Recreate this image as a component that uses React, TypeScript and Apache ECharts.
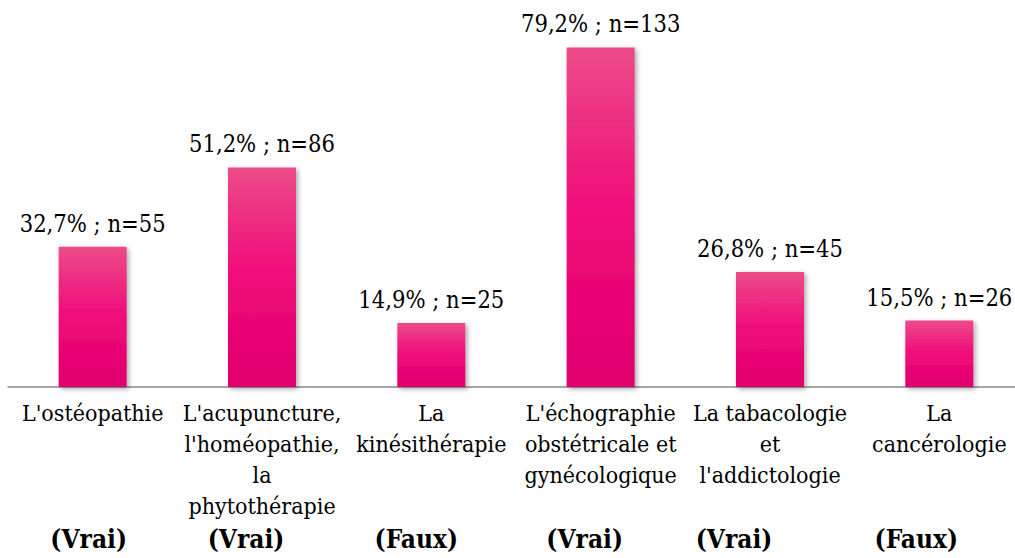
import React, { useEffect, useRef } from "react";
import * as echarts from "echarts";

const categories = [
  "L'ostéopathie",
  "L'acupuncture,\nl'homéopathie,\nla\nphytothérapie",
  "La\nkinésithérapie",
  "L'échographie\nobstétricale et\ngynécologique",
  "La tabacologie\net\nl'addictologie",
  "La\ncancérologie",
];
const percents = [32.7, 51.2, 14.9, 79.2, 26.8, 15.5];
const counts = [55, 86, 25, 133, 45, 26];
const verdicts = ["(Vrai)", "(Vrai)", "(Faux)", "(Vrai)", "(Vrai)", "(Faux)"];
const verdictShift = [4, 16, 15, 16, 36, 23];

export default function App() {
  const ref = useRef<HTMLDivElement>(null);
  useEffect(() => {
    if (!ref.current) return;
    const chart = echarts.init(ref.current, undefined, { renderer: "svg" });
    const serif = "DejaVu Serif Condensed";
    const rich: Record<string, any> = {};
    verdictShift.forEach((s, i) => {
      rich["v" + i] = {
        fontFamily: serif,
        fontWeight: "bold",
        fontSize: 26,
        color: "#000",
        padding: [0, s * 2, 0, 0],
      };
    });
    chart.setOption({
      animation: false,
      backgroundColor: "#fff",
      grid: { left: 8, right: 0, top: 44, bottom: 171, containLabel: false },
      xAxis: [
        {
          type: "category",
          data: categories,
          axisLine: { show: true, lineStyle: { color: "#8a8a8a", width: 1.5 } },
          axisTick: { show: false },
          axisLabel: {
            interval: 0,
            hideOverlap: false,
            margin: 10,
            fontFamily: serif,
            fontSize: 23,
            lineHeight: 31,
            color: "#000",
          },
        },
        {
          type: "category",
          position: "bottom",
          data: verdicts,
          axisLine: { show: false },
          axisTick: { show: false },
          axisLabel: {
            interval: 0,
            hideOverlap: false,
            margin: 139,
            formatter: (v: string, i: number) => `{v${i}|${v}}`,
            rich,
          },
        },
      ],
      yAxis: { type: "value", min: 0, max: 80, show: false, splitLine: { show: false } },
      series: [
        {
          type: "bar",
          xAxisIndex: 0,
          data: percents,
          barWidth: 68,
          itemStyle: {
            color: new echarts.graphic.LinearGradient(0, 0, 0, 1, [
              { offset: 0, color: "#ec4b89" },
              { offset: 0.5, color: "#f00a7a" },
              { offset: 1, color: "#e0006d" },
            ]),
            shadowBlur: 5,
            shadowColor: "rgba(0,0,0,0.35)",
            shadowOffsetX: 2,
            shadowOffsetY: 2,
          },
          label: {
            show: true,
            position: "top",
            distance: 11,
            fontFamily: serif,
            fontSize: 23.5,
            color: "#000",
            formatter: (p: any) =>
              `${String(percents[p.dataIndex]).replace(".", ",")}% ; n=${counts[p.dataIndex]}`,
          },
        },
      ],
    });
    return () => chart.dispose();
  }, []);
  return (
    <div
      style={{ position: "absolute", left: 0, top: 0, width: 1015, height: 558, overflow: "hidden" }}
    >
      <div ref={ref} style={{ width: 1024, height: 558 }} />
    </div>
  );
}
